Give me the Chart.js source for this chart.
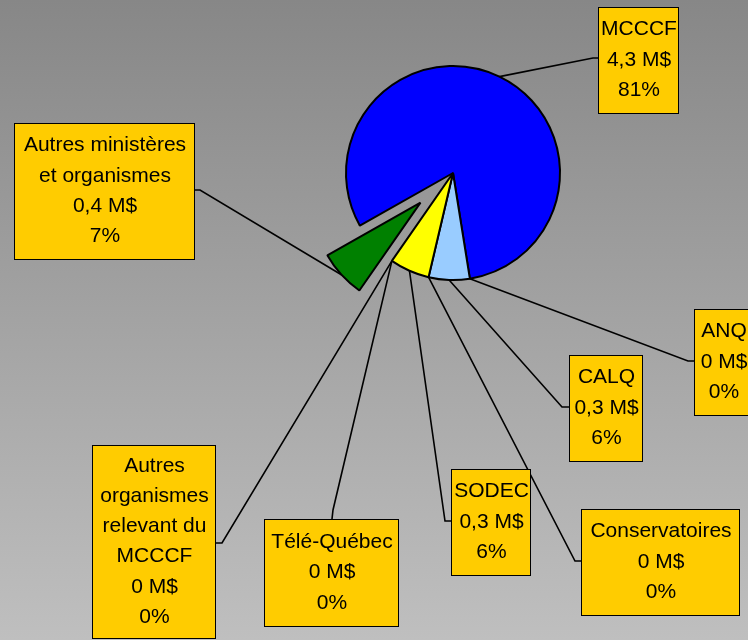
<!DOCTYPE html>
<html lang="fr">
<head>
<meta charset="utf-8">
<script src="https://cdn.jsdelivr.net/npm/chart.js@4.4.1/dist/chart.umd.min.js"></script>
<style>
  html, body { margin: 0; padding: 0; }
  #wrap { width: 748px; height: 640px; }
</style>
</head>
<body>
<div id="wrap"><canvas id="budgetChart"></canvas></div>
<script>
// === Données ===
const categories = [
  ['MCCCF'],
  ['ANQ'],
  ['CALQ'],
  ['Conservatoires'],
  ['SODEC'],
  ['Télé-Québec'],
  ['Autres', 'organismes', 'relevant du', 'MCCCF'],
  ['Autres ministères', 'et organismes']
];
const montants = [4.3, 0, 0.33, 0, 0.32, 0, 0, 0.38]; // en M$
const couleurs = ['#0000ff', '#0000ff', '#99ccff', '#99ccff', '#ffff00', '#ffff00', '#008000', '#008000'];

// === Mise en page des étiquettes (boîte + point d'attache + coude) ===
const boites = [
  { x: 598, y: 7,   w: 80,  h: 106, ax: 598, ay: 58,  ex: 593, ey: 58 },
  { x: 694, y: 309, w: 58,  h: 106, ax: 694, ay: 361, ex: 688, ey: 361 },
  { x: 569, y: 355, w: 73,  h: 106, ax: 569, ay: 407, ex: 562, ey: 407 },
  { x: 581, y: 509, w: 158, h: 106, ax: 581, ay: 561, ex: 575, ey: 561 },
  { x: 451, y: 469, w: 79,  h: 106, ax: 451, ay: 521, ex: 445, ey: 521 },
  { x: 264, y: 519, w: 134, h: 107, ax: 332, ay: 519, ex: 333, ey: 510 },
  { x: 92,  y: 445, w: 123, h: 193, ax: 215, ay: 543, ex: 222, ey: 543 },
  { x: 14,  y: 123, w: 180, h: 136, ax: 194, ay: 190, ex: 200, ey: 190 }
];
const eclate = { 7: 44 }; // part détachée (px)

const total = montants.reduce((a, b) => a + b, 0);

function formatMontant(v) {
  return (v === 0 ? '0' : v.toFixed(1).replace('.', ',')) + ' M$';
}

// === Fond dégradé ===
const fondPlugin = {
  id: 'fond',
  beforeDraw(chart) {
    const { ctx, width, height } = chart;
    const g = ctx.createLinearGradient(0, 0, 0, height);
    g.addColorStop(0, '#878787');
    g.addColorStop(1, '#bfbfbf');
    ctx.save();
    ctx.fillStyle = g;
    ctx.fillRect(0, 0, width, height);
    ctx.restore();
  }
};

// === Part éclatée ===
const eclatePlugin = {
  id: 'eclate',
  beforeDatasetsDraw(chart) {
    chart.getDatasetMeta(0).data.forEach((arc, i) => {
      if (!eclate[i] || arc._eclate) return;
      const base = arc.draw;
      arc.draw = function (ctx, area) {
        const mid = (this.startAngle + this.endAngle) / 2;
        ctx.save();
        ctx.translate(Math.cos(mid) * eclate[i], Math.sin(mid) * eclate[i]);
        base.call(this, ctx, area);
        ctx.restore();
      };
      arc._eclate = true;
    });
  }
};

// === Étiquettes et lignes de rappel ===
const etiquettesPlugin = {
  id: 'etiquettes',
  beforeDatasetsDraw(chart) {
    const ctx = chart.ctx;
    ctx.save();
    ctx.strokeStyle = '#000';
    ctx.lineWidth = 1.6;
    chart.getDatasetMeta(0).data.forEach((arc, i) => {
      const p = arc.getProps(['x', 'y', 'startAngle', 'endAngle', 'outerRadius'], true);
      const mid = (p.startAngle + p.endAngle) / 2;
      const d = p.outerRadius + (eclate[i] || 0);
      const b = boites[i];
      ctx.beginPath();
      ctx.moveTo(p.x + Math.cos(mid) * d, p.y + Math.sin(mid) * d);
      ctx.lineTo(b.ex, b.ey);
      ctx.lineTo(b.ax, b.ay);
      ctx.stroke();
    });
    ctx.restore();
  },
  afterDatasetsDraw(chart) {
    const ctx = chart.ctx;
    ctx.save();
    ctx.font = '21px "Liberation Sans", Arial, sans-serif';
    ctx.textAlign = 'center';
    ctx.textBaseline = 'middle';
    categories.forEach((nom, i) => {
      const b = boites[i];
      ctx.fillStyle = '#ffcc00';
      ctx.fillRect(b.x, b.y, b.w, b.h);
      ctx.strokeStyle = '#000';
      ctx.lineWidth = 1;
      ctx.strokeRect(b.x + 0.5, b.y + 0.5, b.w, b.h);
      const lignes = [...nom, formatMontant(montants[i]), Math.round(montants[i] / total * 100) + '%'];
      const hLigne = 30.3;
      const y0 = b.y + b.h / 2 - (lignes.length - 1) * hLigne / 2;
      ctx.fillStyle = '#000';
      lignes.forEach((t, k) => ctx.fillText(t, b.x + b.w / 2 + 1, y0 + k * hLigne));
    });
    ctx.restore();
  }
};

// === Graphique ===
const ctx = document.getElementById('budgetChart').getContext('2d');

new Chart(ctx, {
  type: 'pie',
  data: {
    labels: categories,
    datasets: [{
      data: montants,
      backgroundColor: couleurs,
      borderColor: '#000',
      borderWidth: 2
    }]
  },
  options: {
    responsive: true,
    maintainAspectRatio: false,
    animation: false,
    rotation: -119.5,
    radius: 107,
    layout: {
      padding: { left: 338, right: 180, top: 58, bottom: 352 }
    },
    plugins: {
      legend: { display: false },
      tooltip: { enabled: false }
    }
  },
  plugins: [fondPlugin, eclatePlugin, etiquettesPlugin]
});
</script>
</body>
</html>
